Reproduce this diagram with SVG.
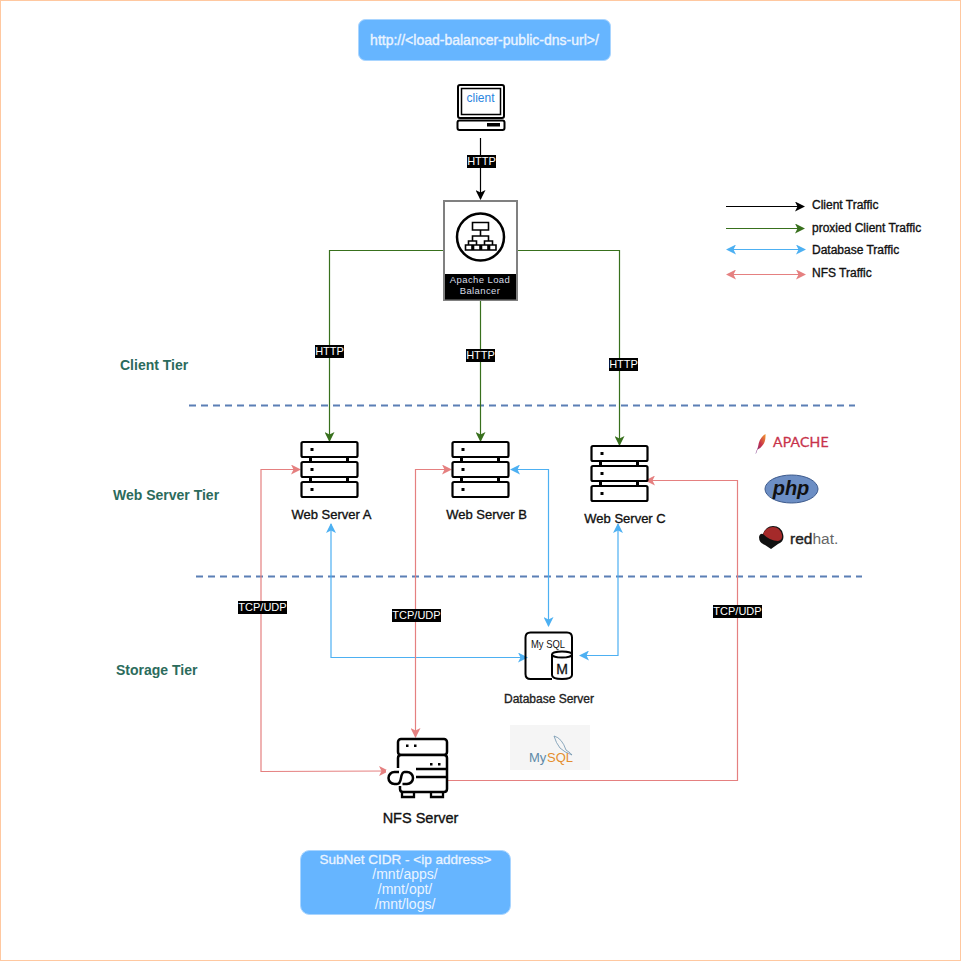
<svg xmlns="http://www.w3.org/2000/svg" width="961" height="961" viewBox="0 0 961 961">
<style>
text{font-family:"Liberation Sans",Arial,sans-serif}
.lbl{font-size:13px;fill:#111;stroke:#111;stroke-width:.35;text-anchor:middle}
.leg{font-size:12px;fill:#111;stroke:#111;stroke-width:.35}
.tier{font-size:14px;font-weight:bold;fill:#2b6b5c}
.tag{font-size:11px;fill:#fff;text-anchor:middle}
.tagbg{fill:#000}
.box{fill:#66b5ff;stroke:#a9d5ff;stroke-width:1}
.boxt{font-size:14px;fill:#eaf4ff;text-anchor:middle}
.c{fill:none;stroke-width:1.2}
.k{stroke:#000}.g{stroke:#38701d}.b{stroke:#4db0f2}.r{stroke:#e58080}
.ic{fill:#fff;stroke:#000;stroke-width:2.2}
.tiers{stroke:#5b7fb5;stroke-width:2;stroke-dasharray:7 5;fill:none}
</style>
<defs>
<linearGradient id="fth" x1="1" y1="0" x2="0" y2="1"><stop offset="0" stop-color="#f29a2e"/><stop offset=".5" stop-color="#c8324a"/><stop offset="1" stop-color="#6a2c8c"/></linearGradient>
<marker id="ak" viewBox="0 0 10 10" refX="9" refY="5" markerWidth="10" markerHeight="10" markerUnits="userSpaceOnUse" orient="auto-start-reverse"><path d="M0 0L10 5L0 10L2.500 5Z" fill="#000"/></marker>
<marker id="ag" viewBox="0 0 10 10" refX="9" refY="5" markerWidth="10" markerHeight="10" markerUnits="userSpaceOnUse" orient="auto-start-reverse"><path d="M0 0L10 5L0 10L2.500 5Z" fill="#38701d"/></marker>
<marker id="ab" viewBox="0 0 10 10" refX="9" refY="5" markerWidth="10" markerHeight="10" markerUnits="userSpaceOnUse" orient="auto-start-reverse"><path d="M0 0L10 5L0 10L2.500 5Z" fill="#4db0f2"/></marker>
<marker id="ar" viewBox="0 0 10 10" refX="9" refY="5" markerWidth="10" markerHeight="10" markerUnits="userSpaceOnUse" orient="auto-start-reverse"><path d="M0 0L10 5L0 10L2.500 5Z" fill="#e58080"/></marker>
<g id="srv">
<path d="M10 15V21M47 15V21M10 35V41M47 35V41" stroke="#000" stroke-width="3" fill="none"/>
<rect class="ic" x="1" y="1" width="56" height="15" rx="1.500"/>
<rect class="ic" x="1" y="21" width="56" height="15" rx="1.500"/>
<rect class="ic" x="1" y="41" width="56" height="15" rx="1.500"/>
<rect x="10" y="7" width="3" height="3"/><rect x="10" y="27" width="3" height="3"/><rect x="10" y="47" width="3" height="3"/>
</g>
</defs>
<rect x="0.5" y="0.5" width="960" height="960" fill="#fff" stroke="#ffc8a0"/>
<g id="tiers">
<path class="tiers" d="M189 405.500H855"/>
<path class="tiers" d="M196 576.500H862"/>
<text class="tier" x="120" y="370">Client Tier</text>
<text class="tier" x="113" y="500">Web Server Tier</text>
<text class="tier" x="116" y="675">Storage Tier</text>
</g>
<g id="connectors">
<path class="c k" d="M480.500 138V199" marker-end="url(#ak)"/>
<path class="c g" d="M444 250.500H329.500V441" marker-end="url(#ag)"/>
<path class="c g" d="M480.500 300V441" marker-end="url(#ag)"/>
<path class="c g" d="M518 250.500H619.500V445" marker-end="url(#ag)"/>
<path class="c b" d="M331 524V657.500H527" marker-start="url(#ab)" marker-end="url(#ab)"/>
<path class="c b" d="M511 469.500H548.500V626" marker-start="url(#ab)" marker-end="url(#ab)"/>
<path class="c b" d="M618 524V655.500H580" marker-start="url(#ab)" marker-end="url(#ab)"/>
<path class="c r" d="M300 469.500H261V771.500L388 771" marker-start="url(#ar)" marker-end="url(#ar)"/>
<path class="c r" d="M451 469.500H415.500V737" marker-start="url(#ar)" marker-end="url(#ar)"/>
<path class="c r" d="M646 480.500H737.500V780.500H447" marker-start="url(#ar)"/>
<rect class="tagbg" x="467" y="155" width="29" height="13"/><text class="tag" x="481.500" y="165">HTTP</text>
<rect class="tagbg" x="315" y="345" width="29" height="13"/><text class="tag" x="329.500" y="355">HTTP</text>
<rect class="tagbg" x="466" y="349" width="29" height="13"/><text class="tag" x="480.500" y="359">HTTP</text>
<rect class="tagbg" x="609" y="358" width="29" height="13"/><text class="tag" x="623.500" y="368">HTTP</text>
<rect class="tagbg" x="238" y="601" width="49" height="13"/><text class="tag" x="262.500" y="611">TCP/UDP</text>
<rect class="tagbg" x="392" y="609" width="49" height="13"/><text class="tag" x="416.500" y="619">TCP/UDP</text>
<rect class="tagbg" x="713" y="605" width="49" height="13"/><text class="tag" x="737.500" y="615">TCP/UDP</text>
</g>
<g id="url"><rect class="box" x="358.500" y="19.500" width="252" height="41" rx="7"/><text class="boxt" x="484.500" y="45" stroke="#eaf4ff" stroke-width=".35">http://&lt;load-balancer-public-dns-url&gt;/</text></g>
<g id="client">
<rect x="458" y="85" width="46" height="33" rx="2" fill="#fff" stroke="#000" stroke-width="2"/>
<rect x="461.500" y="88.500" width="39" height="26" fill="#fff" stroke="#000" stroke-width="1.500"/>
<rect x="457.500" y="120.500" width="47" height="9.500" rx="2" fill="#fff" stroke="#000" stroke-width="2"/>
<rect x="487" y="123" width="13" height="3.500"/>
<text x="480.500" y="102" font-size="12" fill="#2a85e0" text-anchor="middle">client</text>
</g>
<g id="lb">
<rect x="444" y="201" width="73" height="99" fill="#fff" stroke="#808080" stroke-width="2"/>
<rect x="445" y="274" width="71" height="25.500" fill="#000"/>
<circle cx="480.500" cy="237" r="23.500" fill="#fff" stroke="#000" stroke-width="2.500"/>
<path d="M472.500 222.500H488.500V230H472.500ZM480.500 230V236M472.500 241V236H488.500V241M468.500 245V241H476.500V245M484.500 245V241H492.500V245" fill="none" stroke="#000" stroke-width="1.600"/>
<path d="M465.500 245H472V250H465.500ZM473.500 245H480V250H473.500ZM481.500 245H488V250H481.500ZM489.500 245H496V250H489.500Z" fill="none" stroke="#000" stroke-width="1.600"/>
<text x="480" y="283" font-size="9.500" fill="#d5dbe5" text-anchor="middle" letter-spacing=".4">Apache Load</text>
<text x="480" y="294" font-size="9.500" fill="#d5dbe5" text-anchor="middle" letter-spacing=".4">Balancer</text>
</g>
<g id="web-a"><use href="#srv" x="300.500" y="441"/><text class="lbl" x="331.500" y="519">Web Server A</text></g>
<g id="web-b"><use href="#srv" x="451.500" y="441"/><text class="lbl" x="486.500" y="519">Web Server B</text></g>
<g id="web-c"><use href="#srv" x="590.500" y="445"/><text class="lbl" x="625" y="523">Web Server C</text></g>
<g id="db">
<path d="M552 679H530.500Q525.500 679 525.500 674V637.500Q525.500 632.500 530.500 632.500H567Q572 632.500 572 637.500V655" fill="none" stroke="#000" stroke-width="2"/>
<path d="M552 655V675Q552 679 562 679Q572 679 572 675V655Z" fill="#fff" stroke="#000" stroke-width="2"/>
<ellipse cx="562" cy="654.500" rx="10" ry="3" fill="#fff" stroke="#000" stroke-width="2"/>
<text x="531" y="648" font-size="11" fill="#111" textLength="34" lengthAdjust="spacingAndGlyphs">My SQL</text>
<text x="562" y="673.500" font-size="14" fill="#111" stroke="#111" stroke-width=".3" text-anchor="middle">M</text>
<text x="549" y="703" font-size="12" fill="#222" stroke="#222" stroke-width=".35" text-anchor="middle">Database Server</text>
</g>
<g id="nfs">
<rect x="398" y="739" width="49" height="16" rx="3" fill="#fff" stroke="#000" stroke-width="2.500"/>
<path d="M398 768V758Q398 755 401 755H444Q447 755 447 758V789Q447 792 444 792H403Q400 792 400 789V785" fill="#fff" stroke="#000" stroke-width="2.500"/>
<path d="M402 792V797H414V792M431 792V797H443V792" fill="none" stroke="#000" stroke-width="2.300"/>
<path d="M416 769H447M416 777H447" stroke="#000" stroke-width="2.500"/>
<path d="M386 770H414V786H386Z" fill="#fff"/>
<path d="M399 772H394.500A6 6 0 0 0 394.500 784H397Q400 784 401 778Q402 772 404.500 772H407A6 6 0 0 1 407 784H402.500" fill="none" stroke="#000" stroke-width="2.500"/>
<rect x="406" y="744.500" width="2.500" height="2.500"/><rect x="414" y="744.500" width="2.500" height="2.500"/>
<rect x="430" y="763" width="2.500" height="2.500"/><rect x="438" y="763" width="2.500" height="2.500"/>
<text x="420.500" y="823" font-size="14.500" fill="#111" stroke="#111" stroke-width=".35" text-anchor="middle">NFS Server</text>
</g>
<g id="subnet"><rect class="box" x="300.500" y="850.500" width="210" height="64" rx="9"/>
<text class="boxt" x="405.500" y="864" style="font-size:13.500px" stroke="#eaf4ff" stroke-width=".3">SubNet CIDR - &lt;ip address&gt;</text>
<text class="boxt" x="405" y="879">/mnt/apps/</text><text class="boxt" x="405" y="894">/mnt/opt/</text><text class="boxt" x="405" y="909">/mnt/logs/</text></g>
<g id="legend">
<path class="c k" d="M726 206.500H804" marker-end="url(#ak)"/><text class="leg" x="812" y="209">Client Traffic</text>
<path class="c g" d="M726 228.500H804" marker-end="url(#ag)"/><text class="leg" x="812" y="232">proxied Client Traffic</text>
<path class="c b" d="M727 249.500H805" marker-start="url(#ab)" marker-end="url(#ab)"/><text class="leg" x="812" y="254">Database Traffic</text>
<path class="c r" d="M727 274.500H805" marker-start="url(#ar)" marker-end="url(#ar)"/><text class="leg" x="812" y="277">NFS Traffic</text>
</g>
<g id="logos">
<path d="M755.500 453.500L758 447Q759 438 765.500 434Q766 442 762 446Q760 449 757.500 449.500L756 453.500Z" fill="url(#fth)"/>
<text x="773" y="447" font-size="14" fill="#c8324a" stroke="#c8324a" stroke-width=".3" style="font-family:'Lato',sans-serif;letter-spacing:.2px">APACHE</text>
<ellipse cx="791.500" cy="489" rx="26.500" ry="14" fill="#6c8ec4" stroke="#3d5a8c"/>
<text x="791" y="495" font-size="20" font-weight="bold" font-style="italic" text-anchor="middle" fill="#111">php</text>
<path d="M759 537Q760 533 763 534Q766 526 773 526Q781 526 783 534Q785 541 778 544L771 549L765 545Q759 543 759 537Z" fill="#111"/>
<path d="M763 534Q766 527 773 527Q780 527 782 535Q783 540 778 541Q770 541 763 534Z" fill="#a52a2a"/>
<text x="790" y="544" font-size="15.500" fill="#222" stroke="#222" stroke-width=".4">red<tspan fill="#666" stroke-width="0">hat.</tspan></text>
<rect x="510" y="725" width="80" height="45" fill="#f5f5f5"/>
<path d="M554 736Q562 738 566 750Q571 753 572 755Q564 752 560 748Q556 743 554 736Z" fill="none" stroke="#6f93ad" stroke-width=".8"/>
<text x="529" y="762" font-size="13" fill="#5d8aa8">My</text>
<text x="547" y="762" font-size="13" fill="#e48e2d">SQL</text>
</g>
</svg>
